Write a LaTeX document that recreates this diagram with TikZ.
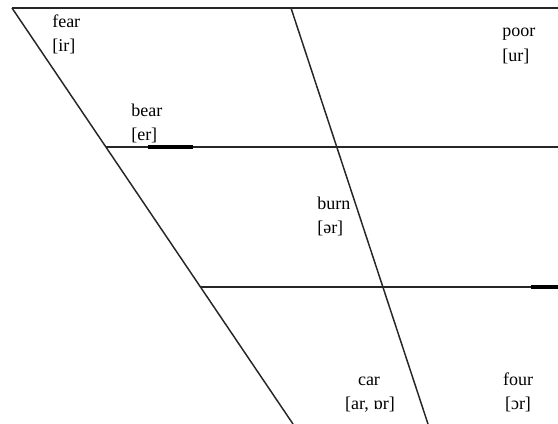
\documentclass[tikz,border=0pt]{standalone}
\usepackage{fontspec}
\setmainfont{Liberation Serif}
\begin{document}
\begin{tikzpicture}[x=0.75pt,y=-0.75pt,
  chartline/.style={draw=black!85,line width=1.1pt},
  heavybit/.style={draw=black,line width=2.4pt},
  lbl/.style={anchor=base west,inner sep=0pt,font=\fontsize{13.5}{16}\selectfont},
  clbl/.style={anchor=base,inner sep=0pt,font=\fontsize{13.5}{16}\selectfont}]
\useasboundingbox[fill=white] (0,0) rectangle (558,424);
% frame coordinates
\coordinate (tl) at (12,8);
\coordinate (tr) at (558,8);
\coordinate (bl) at (293,424);
\coordinate (mt) at (291,8);
\coordinate (mb) at (428,424);
\coordinate (h1l) at (106,147);
\coordinate (h1r) at (558,147);
\coordinate (h2l) at (200,287);
\coordinate (h2r) at (558,287);
\draw[chartline] (tl) -- (tr);
\draw[chartline] (tl) -- (bl);
\draw[chartline] (mt) -- (mb);
\draw[chartline] (h1l) -- (h1r);
\draw[chartline] (h2l) -- (h2r);
\coordinate (k1a) at (148,147);
\coordinate (k1b) at (193,147);
\coordinate (k2a) at (531,287);
\coordinate (k2b) at (558,287);
\draw[heavybit] (k1a) -- (k1b);
\draw[heavybit] (k2a) -- (k2b);
% labels
\node[lbl] (fear) at (52,28) {fear};
\node[lbl] (fearipa) at (52,52) {[ir]};
\node[lbl] (poor) at (502,37) {poor};
\node[lbl] (poor2) at (502,62) {[ur]};
\node[lbl] (bear) at (131,117) {bear};
\node[lbl] (bearipa) at (131,141) {[er]};
\node[lbl] (burn) at (317,210) {burn};
\node[lbl] (burnipa) at (317,234) {[ər]};
\node[clbl] (car) at (369,386) {car};
\node[clbl] (caripa) at (370,410) {[ar, ɒr]};
\node[clbl] (four) at (518,386) {four};
\node[clbl] (fouripa) at (518,410) {[ɔr]};
\end{tikzpicture}
\end{document}
